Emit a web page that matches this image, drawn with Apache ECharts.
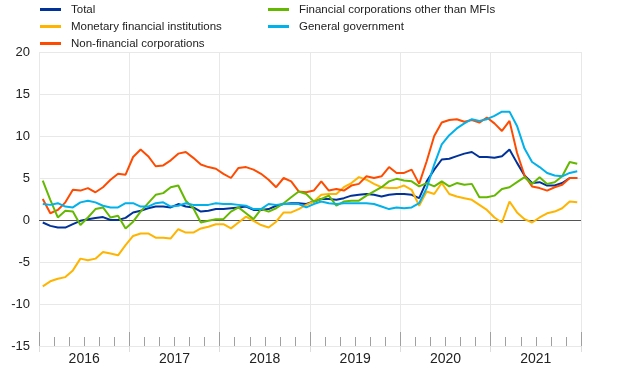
<!DOCTYPE html>
<html><head><meta charset="utf-8">
<script src="https://cdn.jsdelivr.net/npm/echarts@6/dist/echarts.min.js"></script>
<style>html,body{margin:0;padding:0;background:#fff}#c{width:620px;height:387px}</style>
</head><body><div id="c"></div>
<script>
const years = ['2016','2017','2018','2019','2020','2021'];
const seriesNames = ['Total','Monetary financial institutions','Non-financial corporations','Financial corporations other than MFIs','General government'];
const yTicks = [-15,-10,-5,0,5,10,15,20];
const total = [-0.3,-0.7,-0.9,-0.9,-0.5,-0.1,0.1,0.25,0.35,0,0,0.25,
 0.9,1.1,1.4,1.6,1.6,1.5,1.9,1.6,1.5,1.0,1.1,1.3,
 1.3,1.4,1.5,1.6,1.2,1.2,1.3,1.7,1.9,2.0,2.0,1.9,
 2.2,2.5,2.5,2.4,2.6,2.9,3.0,3.1,3.0,2.8,3.0,3.1,
 3.1,3.0,2.6,4.6,6.0,7.2,7.3,7.6,7.9,8.1,7.5,7.5,
 7.4,7.6,8.4,6.8,5.3,4.4,4.5,4.1,4.1,4.4,5.0,5.0];
const mfi = [-7.9,-7.3,-7.0,-6.8,-6.0,-4.6,-4.8,-4.6,-3.8,-4.0,-4.2,-3.0,
 -1.9,-1.6,-1.6,-2.1,-2.1,-2.2,-1.1,-1.5,-1.5,-1.0,-0.8,-0.5,
 -0.5,-1.0,-0.3,0.4,-0.1,-0.6,-0.9,-0.2,0.9,0.9,1.3,1.8,
 2.2,3.0,3.1,3.1,3.9,4.4,5.1,4.8,4.3,3.9,3.8,3.8,
 4.1,3.6,1.7,3.4,3.1,4.4,3.1,2.8,2.6,2.4,1.8,1.2,
 0.3,-0.3,2.2,0.9,0.1,-0.3,0.3,0.8,1.0,1.4,2.2,2.1];
const nfc = [2.5,0.8,1.2,2.1,3.6,3.5,3.8,3.3,3.9,4.8,5.5,5.4,
 7.5,8.4,7.6,6.4,6.5,7.1,7.9,8.1,7.4,6.6,6.3,6.1,
 5.5,5.0,6.2,6.3,6.0,5.5,4.8,3.9,5.0,4.6,3.4,3.3,
 3.5,4.6,3.5,3.7,3.5,4.1,4.3,5.2,5.0,5.2,6.3,5.6,
 5.6,6.0,4.3,7.0,10.0,11.6,11.9,12.0,11.7,11.9,11.6,12.2,
 11.5,10.6,11.8,8.0,5.3,4.0,3.8,3.5,3.9,4.2,5.0,5.0];
const ofi = [4.7,2.4,0.3,1.1,1.0,-0.6,0.3,1.3,1.5,0.3,0.5,-1.0,
 -0.2,1.0,2.0,3.0,3.2,3.9,4.1,2.3,1.4,-0.3,-0.1,0.1,
 0.1,1.0,1.5,0.8,0.1,1.3,1.0,1.4,2.0,2.7,3.4,3.1,
 2.2,2.5,2.9,1.7,2.2,2.3,2.3,2.9,3.4,3.9,4.6,4.9,
 4.7,4.6,4.0,4.4,4.0,4.6,4.0,4.4,4.2,4.3,2.7,2.7,
 2.9,3.7,3.9,4.5,5.1,4.3,5.1,4.3,4.5,5.2,6.9,6.7];
const gg = [1.9,1.8,2.0,1.6,1.5,2.1,2.3,2.1,1.7,1.5,1.5,2.0,
 2.0,1.6,1.6,2.0,2.1,1.6,1.7,2.0,1.8,1.8,1.8,2.0,
 1.9,1.9,1.8,1.7,1.3,1.3,1.9,1.8,1.9,1.9,1.9,1.5,
 1.9,2.2,2.0,1.9,2.0,2.0,2.0,2.0,1.9,1.6,1.3,1.5,
 1.4,1.5,2.0,3.8,6.6,9.0,10.1,10.9,11.5,12.0,11.8,12.0,
 12.4,12.9,12.9,11.2,8.5,6.9,6.3,5.6,5.3,5.2,5.6,5.8];
const colors = ['#003299','#FFB400','#FF4B00','#65B800','#00B1EA'];

const months = [];
years.forEach(y => { for (let m = 1; m <= 12; m++) months.push(y + '-' + String(m).padStart(2,'0')); });
const values = [total, mfi, nfc, ofi, gg];

const chart = echarts.init(document.getElementById('c'), null, {renderer:'canvas'});
const legendText = {fontFamily:"'Liberation Sans',Arial,sans-serif", fontSize:11.5, color:'#222', lineHeight:17, padding:[0,0,0,5]};
chart.setOption({
  animation:false,
  color: colors,
  grid:{left:39,right:39,top:52,bottom:41,containLabel:false},
  legend:[
    {left:40,top:1,padding:0,orient:'vertical',itemWidth:21,itemHeight:3,itemGap:0,icon:'rect',textStyle:legendText,
     data:[seriesNames[0],seriesNames[1],seriesNames[2]]},
    {left:268,top:1,padding:0,orient:'vertical',itemWidth:21,itemHeight:3,itemGap:0,icon:'rect',textStyle:legendText,
     data:[seriesNames[3],seriesNames[4]]}
  ],
  xAxis:[
    {type:'category',data:months,boundaryGap:true,position:'bottom',
     axisLine:{show:false,onZero:false},axisLabel:{show:false},splitLine:{show:false},
     axisTick:{show:true,inside:true,length:9,interval:1,lineStyle:{color:'#a0a0a0'}}},
    {type:'category',data:years,boundaryGap:true,position:'bottom',
     axisLine:{show:false,onZero:false},
     axisTick:{show:true,inside:true,length:14,lineStyle:{color:'#a0a0a0'}},
     axisLabel:{show:true,margin:6,fontSize:14,color:'#222',fontFamily:"'Liberation Sans',Arial,sans-serif"},
     splitLine:{show:true,lineStyle:{color:'#e8e8e8',width:1}}},
    {type:'category',data:years,boundaryGap:true,position:'bottom',
     axisLine:{show:false,onZero:false},axisLabel:{show:false},splitLine:{show:false},
     axisTick:{show:true,inside:false,length:6,lineStyle:{color:'#dddddd'}}}
  ],
  yAxis:{type:'value',min:yTicks[0],max:yTicks[yTicks.length-1],interval:5,
    axisLine:{show:false},axisTick:{show:false},
    axisLabel:{margin:9,fontSize:13,color:'#222',fontFamily:"'Liberation Sans',Arial,sans-serif"},
    splitLine:{lineStyle:{color:'#e8e8e8',width:1}}},
  series: seriesNames.map((n,i)=>({
    name:n,type:'line',xAxisIndex:0,data:values[i],symbol:'none',smooth:false,
    lineStyle:{width:2,color:colors[i]},itemStyle:{color:colors[i]},
    z: 2+i,
    markLine: i===0 ? {silent:true,symbol:'none',label:{show:false},
      lineStyle:{color:'#555',width:1,type:'solid'},data:[{yAxis:0}],z:1} : undefined
  }))
});
</script></body></html>
